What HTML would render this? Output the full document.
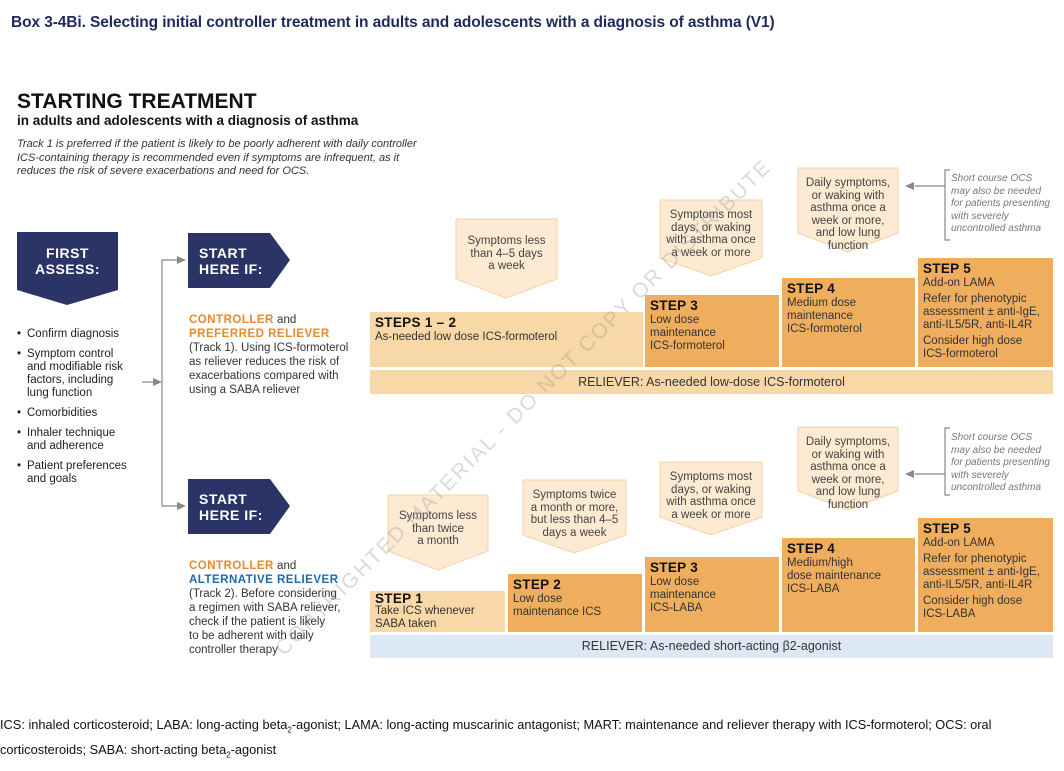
<!DOCTYPE html>
<html><head><meta charset="utf-8">
<style>
body{margin:0;width:1064px;height:771px;background:#fff;position:relative;overflow:hidden;font-family:"Liberation Sans",Arial,sans-serif;color:#333}
.a{position:absolute}
.box{position:absolute;box-sizing:border-box;padding:4px 5px;font-size:11.5px;line-height:13px;color:#333;white-space:nowrap}
.box b{font-size:13.5px;color:#111;display:block;margin-bottom:2px;letter-spacing:.3px}
.lt{background:#f8d8a6}.dk{background:#efae5e}
.cs{position:absolute;text-align:center;font-size:11.5px;line-height:12.5px;color:#444;white-space:nowrap}
.ocs{position:absolute;font-size:10px;line-height:12.5px;font-style:italic;color:#777;white-space:nowrap}
.nav{position:absolute;color:#fff;font-weight:bold;font-size:14px;line-height:16px;letter-spacing:.5px}
ul{margin:0;padding:0;list-style:none}
li{position:relative;padding-left:10px;margin-bottom:7px;white-space:nowrap}
li:before{content:"•";position:absolute;left:0}
</style></head><body>
<div class="a" style="left:11px;top:14px;font-size:15.5px;font-weight:bold;color:#1f2a5c;letter-spacing:-.1px">Box 3-4Bi. Selecting initial controller treatment in adults and adolescents with a diagnosis of asthma (V1)</div>
<div class="a" style="left:17px;top:90px;font-size:21px;font-weight:bold;color:#111">STARTING TREATMENT</div>
<div class="a" style="left:17px;top:113px;font-size:13.5px;font-weight:bold;color:#111">in adults and adolescents with a diagnosis of asthma</div>
<div class="a" style="left:17px;top:138px;font-size:11px;line-height:13.5px;font-style:italic;color:#333;white-space:nowrap">Track 1 is preferred if the patient is likely to be poorly adherent with daily controller<br>ICS-containing therapy is recommended even if symptoms are infrequent, as it<br>reduces the risk of severe exacerbations and need for OCS.</div>

<svg class="a" style="left:0;top:0" width="1064" height="771">
 <polygon points="17,232 118,232 118,290 67,305 17,290" fill="#2b3466"/>
 <polygon points="188,233 270,233 290,260 270,288 188,288" fill="#2b3466"/>
 <polygon points="188,479 270,479 290,506 270,534 188,534" fill="#2b3466"/>
 <g stroke="#888" fill="none" stroke-width="1.2"><polyline points="178,260 162,260 162,506 178,506"/><line x1="142" y1="382" x2="155" y2="382"/>
 <line x1="945" y1="186" x2="915" y2="186"/><polyline points="950,170 945,170 945,240 950,240"/>
 <line x1="945" y1="474" x2="915" y2="474"/><polyline points="950,428 945,428 945,495 950,495"/></g>
 <g fill="#888"><polygon points="186,260 177,256 177,264"/><polygon points="186,506 177,502 177,510"/><polygon points="162,382 153,378 153,386"/>
 <polygon points="905,186 914,182 914,190"/><polygon points="905,474 914,470 914,478"/></g>
 <g fill="#fdead3" stroke="#f6d2a6">
  <polygon points="456,219 557,219 557,279 506,298 456,279"/>
  <polygon points="660,200 762,200 762,258 711,276 660,258"/>
  <polygon points="798,168 898,168 898,233 848,252 798,233"/>
  <polygon points="388,495 488,495 488,551 438,570 388,551"/>
  <polygon points="523,480 626,480 626,535 574,553 523,535"/>
  <polygon points="660,462 762,462 762,517 711,535 660,517"/>
  <polygon points="798,427 898,427 898,491 848,510 798,491"/>
 </g>
</svg>
<div class="nav" style="left:17px;top:245px;width:101px;text-align:center">FIRST<br>ASSESS:</div>
<div class="nav" style="left:199px;top:245px">START<br>HERE IF:</div>
<div class="nav" style="left:199px;top:491px">START<br>HERE IF:</div>

<div class="a" style="left:17px;top:328px;font-size:11.5px;line-height:13px;color:#222"><ul>
<li>Confirm diagnosis</li><li>Symptom control<br>and modifiable risk<br>factors, including<br>lung function</li><li>Comorbidities</li><li>Inhaler technique<br>and adherence</li><li>Patient preferences<br>and goals</li></ul></div>

<div class="a" style="left:189px;top:313px;font-size:11.5px;line-height:14px;color:#333;white-space:nowrap"><b style="color:#e8892a;letter-spacing:.5px">CONTROLLER</b> and<br><b style="color:#e8892a;letter-spacing:.5px">PREFERRED RELIEVER</b><br>(Track 1). Using ICS-formoterol<br>as reliever reduces the risk of<br>exacerbations compared with<br>using a SABA reliever</div>
<div class="a" style="left:189px;top:559px;font-size:11.5px;line-height:14px;color:#333;white-space:nowrap"><b style="color:#e8892a;letter-spacing:.5px">CONTROLLER</b> and<br><b style="color:#1b6bb0;letter-spacing:.5px">ALTERNATIVE RELIEVER</b><br>(Track 2). Before considering<br>a regimen with SABA reliever,<br>check if the patient is likely<br>to be adherent with daily<br>controller therapy</div>

<!-- Track 1 -->
<div class="box lt" style="left:370px;top:312px;width:273px;height:55px"><b>STEPS 1 – 2</b>As-needed low dose ICS-formoterol</div>
<div class="box dk" style="left:645px;top:295px;width:134px;height:72px"><b>STEP 3</b>Low dose<br>maintenance<br>ICS-formoterol</div>
<div class="box dk" style="left:782px;top:278px;width:133px;height:89px"><b>STEP 4</b>Medium dose<br>maintenance<br>ICS-formoterol</div>
<div class="box dk" style="left:918px;top:258px;width:135px;height:109px"><b>STEP 5</b>Add-on LAMA<div style="height:3px"></div>Refer for phenotypic<br>assessment ± anti-IgE,<br>anti-IL5/5R, anti-IL4R<div style="height:3px"></div>Consider high dose<br>ICS-formoterol</div>
<div class="a lt" style="left:370px;top:370px;width:683px;height:24px;text-align:center;font-size:12.5px;line-height:24px;color:#333">RELIEVER: As-needed low-dose ICS-formoterol</div>
<div class="cs" style="left:456px;top:235px;width:101px">Symptoms less<br>than 4–5 days<br>a week</div>
<div class="cs" style="left:660px;top:209px;width:102px">Symptoms most<br>days, or waking<br>with asthma once<br>a week or more</div>
<div class="cs" style="left:798px;top:177px;width:100px">Daily symptoms,<br>or waking with<br>asthma once a<br>week or more,<br>and low lung<br>function</div>
<div class="ocs" style="left:951px;top:173px">Short course OCS<br>may also be needed<br>for patients presenting<br>with severely<br>uncontrolled asthma</div>

<!-- Track 2 -->
<div class="box lt" style="left:370px;top:591px;width:135px;height:41px;padding-top:1px"><b style="margin-bottom:0">STEP 1</b>Take ICS whenever<br>SABA taken</div>
<div class="box dk" style="left:508px;top:574px;width:134px;height:58px"><b>STEP 2</b>Low dose<br>maintenance ICS</div>
<div class="box dk" style="left:645px;top:557px;width:134px;height:75px"><b>STEP 3</b>Low dose<br>maintenance<br>ICS-LABA</div>
<div class="box dk" style="left:782px;top:538px;width:133px;height:94px"><b>STEP 4</b>Medium/high<br>dose maintenance<br>ICS-LABA</div>
<div class="box dk" style="left:918px;top:518px;width:135px;height:114px"><b>STEP 5</b>Add-on LAMA<div style="height:3px"></div>Refer for phenotypic<br>assessment ± anti-IgE,<br>anti-IL5/5R, anti-IL4R<div style="height:3px"></div>Consider high dose<br>ICS-LABA</div>
<div class="a" style="left:370px;top:635px;width:683px;height:23px;background:#dce9f4;text-align:center;font-size:12.5px;line-height:23px;color:#333">RELIEVER: As-needed short-acting β2-agonist</div>
<div class="cs" style="left:388px;top:510px;width:100px">Symptoms less<br>than twice<br>a month</div>
<div class="cs" style="left:523px;top:489px;width:103px">Symptoms twice<br>a month or more,<br>but less than 4–5<br>days a week</div>
<div class="cs" style="left:660px;top:471px;width:102px">Symptoms most<br>days, or waking<br>with asthma once<br>a week or more</div>
<div class="cs" style="left:798px;top:436px;width:100px">Daily symptoms,<br>or waking with<br>asthma once a<br>week or more,<br>and low lung<br>function</div>
<div class="ocs" style="left:951px;top:432px">Short course OCS<br>may also be needed<br>for patients presenting<br>with severely<br>uncontrolled asthma</div>

<div class="a" style="left:180px;top:400px;width:680px;text-align:center;font-size:21px;color:rgba(150,150,150,.35);transform:rotate(-45deg);letter-spacing:2px;white-space:nowrap">COPYRIGHTED MATERIAL - DO NOT COPY OR DISTRIBUTE</div>

<div class="a" style="left:0;top:715px;font-size:12.8px;line-height:19px;color:#111;white-space:nowrap">ICS: inhaled corticosteroid; LABA: long-acting beta<sub style="font-size:8px">2</sub>-agonist; LAMA: long-acting muscarinic antagonist; MART: maintenance and reliever therapy with ICS-formoterol; OCS: oral<br>corticosteroids; SABA: short-acting beta<sub style="font-size:8px">2</sub>-agonist</div>
</body></html>
